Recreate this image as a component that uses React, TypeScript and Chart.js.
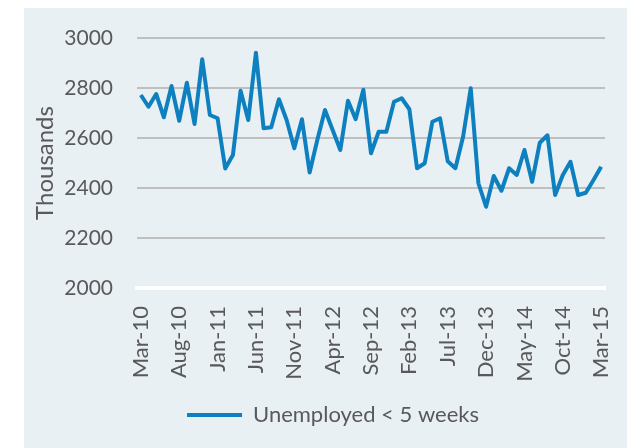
import React, { useEffect, useRef } from 'react';
import { Chart, registerables } from 'chart.js';

Chart.register(...registerables);

const months = [
  'Mar-10', 'Apr-10', 'May-10', 'Jun-10', 'Jul-10', 'Aug-10', 'Sep-10', 'Oct-10', 'Nov-10', 'Dec-10',
  'Jan-11', 'Feb-11', 'Mar-11', 'Apr-11', 'May-11', 'Jun-11', 'Jul-11', 'Aug-11', 'Sep-11', 'Oct-11',
  'Nov-11', 'Dec-11', 'Jan-12', 'Feb-12', 'Mar-12', 'Apr-12', 'May-12', 'Jun-12', 'Jul-12', 'Aug-12',
  'Sep-12', 'Oct-12', 'Nov-12', 'Dec-12', 'Jan-13', 'Feb-13', 'Mar-13', 'Apr-13', 'May-13', 'Jun-13',
  'Jul-13', 'Aug-13', 'Sep-13', 'Oct-13', 'Nov-13', 'Dec-13', 'Jan-14', 'Feb-14', 'Mar-14', 'Apr-14',
  'May-14', 'Jun-14', 'Jul-14', 'Aug-14', 'Sep-14', 'Oct-14', 'Nov-14', 'Dec-14', 'Jan-15', 'Feb-15',
  'Mar-15',
];

const unemployedUnder5Weeks = [
  2772, 2725, 2776, 2683, 2808, 2669, 2821, 2656, 2915, 2692,
  2679, 2478, 2532, 2789, 2672, 2941, 2639, 2643, 2755, 2672,
  2559, 2675, 2462, 2592, 2712, 2632, 2552, 2749, 2675, 2793,
  2539, 2625, 2625, 2745, 2759, 2715, 2479, 2499, 2665, 2679,
  2507, 2479, 2605, 2799, 2419, 2325, 2448, 2389, 2479, 2452,
  2552, 2425, 2581, 2611, 2372, 2452, 2505, 2372, 2381, 2432,
  2485,
];

const seriesLabel = 'Unemployed < 5 weeks';
const yAxisTitle = 'Thousands';
const yMin = 2000;
const yMax = 3000;
const yStep = 200;
const labelEvery = 5;

export default function App() {
  const ref = useRef<HTMLCanvasElement>(null);

  useEffect(() => {
    if (!ref.current) return;
    const family = "Lato, 'Open Sans', sans-serif";
    const textColor = '#595959';
    const lineColor = '#0E80C0';

    const legendShift = {
      id: 'legendShift',
      afterLayout(chart: any) {
        const lg = chart.legend;
        if (lg) {
          lg.left += 18.5;
          lg.right += 18.5;
        }
      },
    };

    const chart = new Chart(ref.current, {
      type: 'line',
      data: {
        labels: months,
        datasets: [
          {
            label: seriesLabel,
            data: unemployedUnder5Weeks,
            borderColor: lineColor,
            backgroundColor: lineColor,
            borderWidth: 4,
            borderJoinStyle: 'round',
            pointRadius: 0,
            pointHoverRadius: 0,
            tension: 0,
            fill: false,
          },
        ],
      },
      options: {
        responsive: false,
        animation: false,
        layout: { padding: { top: 30, right: 22, bottom: 12, left: 0 } },
        plugins: {
          legend: {
            position: 'bottom',
            labels: {
              usePointStyle: true,
              pointStyle: 'line',
              pointStyleWidth: 55,
              color: textColor,
              font: { family, size: 22 },
              padding: 10,
            },
          },
          tooltip: { enabled: false },
        },
        scales: {
          x: {
            offset: true,
            grid: { display: false, drawTicks: false },
            border: { display: true, color: '#FFFFFF', width: 4 },
            ticks: {
              autoSkip: false,
              maxRotation: 90,
              minRotation: 90,
              padding: 18,
              color: textColor,
              font: { family, size: 22 },
              callback: (_v: any, i: number) => (i % labelEvery === 0 ? months[i] : ''),
            },
            afterFit: (s: any) => {
              s.height = 106;
              s.paddingLeft = 0;
              s.paddingRight = 0;
            },
          },
          y: {
            min: yMin,
            max: yMax,
            ticks: {
              stepSize: yStep,
              padding: 24,
              color: textColor,
              font: { family, size: 21 },
              callback: (v: any) => String(v),
            },
            grid: {
              color: (ctx: any) => (ctx.tick && ctx.tick.value === yMin ? 'rgba(0,0,0,0)' : '#BFBFBF'),
              lineWidth: 2,
              drawTicks: false,
            },
            border: { display: false },
            title: {
              display: true,
              text: yAxisTitle,
              color: textColor,
              font: { family, size: 24 },
              padding: { top: 7, bottom: 0 },
            },
            afterFit: (s: any) => {
              s.width = 113;
              s.paddingTop = 0;
              s.paddingBottom = 0;
            },
          },
        },
      },
      plugins: [legendShift],
    } as any);

    return () => chart.destroy();
  }, []);

  return (
    <div
      style={{
        position: 'absolute',
        left: 24,
        top: 8,
        width: 603,
        height: 440,
        background: '#E8F0F4',
      }}
    >
      <canvas ref={ref} width={603} height={440} style={{ display: 'block', width: 603, height: 440 }} />
    </div>
  );
}
